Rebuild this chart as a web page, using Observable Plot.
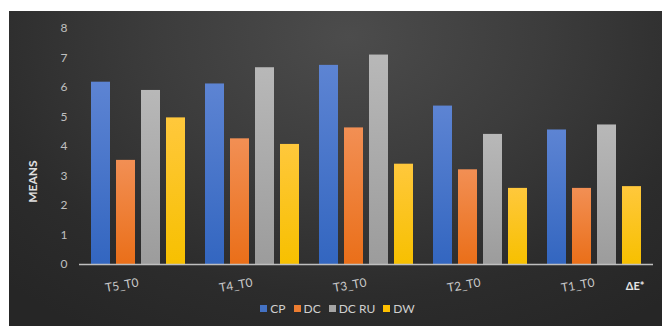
<!DOCTYPE html>
<html><head><meta charset="utf-8">
<script src="https://cdn.jsdelivr.net/npm/d3@7"></script>
<script src="https://cdn.jsdelivr.net/npm/@observablehq/plot@0.6"></script>
<style>
body{margin:0;background:#fff;width:662px;height:326px;overflow:hidden;position:relative;}
#panel{position:absolute;left:9px;top:11px;width:653px;height:315px;overflow:hidden;
  background:radial-gradient(ellipse 75% 110% at 52% 8%, #4c4c4c 0%, #3c3c3c 40%, #2c2c2c 75%, #262626 100%);
  font-family:Lato,"Open Sans",sans-serif;}
#legend{position:absolute;left:0;top:290px;width:653px;height:14px;display:flex;justify-content:center;align-items:center;
  padding-left:4px;box-sizing:border-box;color:#d0d0d0;font-size:12px;}
#legend .item{display:flex;align-items:center;margin:0 4px;}
#legend .sw{width:7px;height:7px;margin-right:3px;}
</style>
</head><body>
<div id="panel"><div id="chart"></div><div id="legend"></div></div>
<script>
const groups = ["T5_T0","T4_T0","T3_T0","T2_T0","T1_T0"];
const series = ["CP","DC","DC RU","DW"];
const CP   = [6.18, 6.12, 6.75, 5.37, 4.56];
const DC   = [3.53, 4.26, 4.63, 3.21, 2.58];
const DCRU = [5.90, 6.67, 7.10, 4.41, 4.73];
const DW   = [4.97, 4.07, 3.40, 2.58, 2.64];
const yTicks = [0,1,2,3,4,5,6,7,8];
const yLabel = "MEANS";
const xNote = "ΔE*";
const values = [CP, DC, DCRU, DW];
const colors = ["#4472C4","#ED7D31","#A5A5A5","#FFC000"];
const topColors = ["#5d84d3","#f28f54","#b8b8b8","#ffc83c"];
const botColors = ["#3366c0","#ea6f19","#9c9c9c","#f7c000"];

const barW = 20, gap = 5, groupW = 4*barW + 3*gap;
const marks = series.map((s,i) => Plot.barY(
  groups.map((g,j) => ({group:g, series:s, value:values[i][j]})),
  {x:"group", y:"value", fill:`url(#grad${i})`,
   insetLeft: i*(barW+gap), insetRight: groupW - (i*(barW+gap)+barW)}
));

const plot = Plot.plot({
  width:653, height:290,
  marginTop:17, marginBottom:37, marginLeft:70, marginRight:9,
  style:{background:"transparent", color:"#c0c0c0", fontFamily:"Lato, 'Open Sans', sans-serif", fontSize:"12px"},
  x:{domain:groups, paddingInner:0.174, paddingOuter:0.087, axis:null},
  y:{domain:[0,8], ticks:yTicks},
  marks:[
    Plot.axisY({ticks:yTicks, tickSize:0, tickPadding:12, label:null, fontSize:12, fill:"#c0c0c0"}),
    ...marks,
    Plot.ruleY([0], {stroke:"#bfbfbf", strokeWidth:1.5}),
    Plot.text(groups, {x:d=>d, y:0, dy:18, rotate:-10, textAnchor:"end", fill:"#c8c8c8", fontSize:12}),
    Plot.text([yLabel], {y:2.09, frameAnchor:"left", dx:-46, rotate:-90, fill:"#e0e0e0", fontWeight:"bold", fontSize:12}),
    Plot.text([xNote], {y:0, frameAnchor:"right", dx:-9, dy:22, textAnchor:"end", fill:"#e6e6e6", fontWeight:"bold", fontSize:11})
  ]
});

const svg = d3.select(plot);
const defs = svg.insert("defs", ":first-child");
series.forEach((s,i) => {
  const g = defs.append("linearGradient").attr("id", `grad${i}`).attr("x1",0).attr("y1",0).attr("x2",0).attr("y2",1);
  g.append("stop").attr("offset","0%").attr("stop-color", topColors[i]);
  g.append("stop").attr("offset","100%").attr("stop-color", botColors[i]);
});
document.getElementById("chart").appendChild(plot);

const legend = d3.select("#legend");
series.forEach((s,i) => {
  const it = legend.append("div").attr("class","item");
  it.append("div").attr("class","sw").style("background", colors[i]);
  it.append("span").text(s);
});
</script>
</body></html>
